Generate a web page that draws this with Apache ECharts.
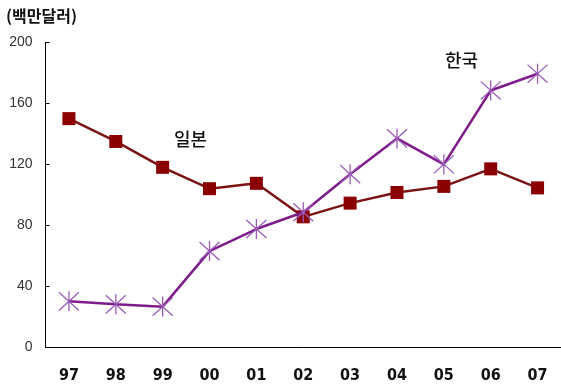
<!DOCTYPE html>
<html>
<head>
<meta charset="utf-8">
<script src="https://cdn.jsdelivr.net/npm/echarts@6/dist/echarts.min.js"></script>
<style>html,body{margin:0;padding:0;background:#fff;}#c{width:561px;height:386px;}</style>
</head>
<body>
<div id="c"></div>
<script>
const categories = ['97','98','99','00','01','02','03','04','05','06','07'];
const japan = [150, 135, 118, 104, 107.5, 85.5, 94.5, 101.5, 105.5, 117, 104.5];
const korea = [30, 28, 26.5, 63, 77.5, 88.5, 113.5, 137, 120, 168.5, 179.5];
const yTicks = [0, 40, 80, 120, 160, 200];
const unitLabel = '(백만달러)';
const japanLabel = '일본';
const koreaLabel = '한국';

const chart = echarts.init(document.getElementById('c'), null, {renderer: 'canvas'});
const star = 'path://M0,0L20,20M20,0L0,20M10,-1L10,21';
chart.setOption({
  animation: false,
  backgroundColor: '#fff',
  grid: {left: 45.5, top: 42.5, width: 518, height: 304.5, containLabel: false},
  xAxis: {
    type: 'category',
    data: categories,
    boundaryGap: true,
    axisLine: {lineStyle: {color: '#000', width: 1}},
    axisTick: {inside: true, length: 4, interval: 0, lineStyle: {color: '#000'}},
    axisLabel: {interval: 0, margin: 21, fontFamily: '"DejaVu Sans Condensed", "DejaVu Sans", sans-serif', fontWeight: 'bold', fontSize: 16, color: '#111'},
    splitLine: {show: false}
  },
  yAxis: {
    type: 'value',
    min: yTicks[0],
    max: yTicks[yTicks.length - 1],
    interval: yTicks[1] - yTicks[0],
    axisLine: {show: true, lineStyle: {color: '#000', width: 1}},
    axisTick: {show: true, inside: true, length: 4, lineStyle: {color: '#000'}},
    axisLabel: {margin: 13, fontFamily: 'Liberation Sans', fontSize: 14, color: '#333'},
    splitLine: {show: false}
  },
  series: [
    {
      name: japanLabel,
      type: 'line',
      data: japan,
      symbol: 'rect',
      symbolSize: 13,
      lineStyle: {color: '#7a1414', width: 2.5},
      itemStyle: {color: '#8b0000', borderColor: '#8b0000', borderWidth: 0},
      z: 2
    },
    {
      name: koreaLabel,
      type: 'line',
      data: korea,
      symbol: star,
      symbolSize: 20,
      lineStyle: {color: '#7d1c8a', width: 2.5},
      itemStyle: {color: 'rgba(0,0,0,0)', borderColor: '#9a5cb8', borderWidth: 1.3},
      z: 3
    }
  ],
  graphic: [
    {type: 'text', left: 6, top: 8, style: {text: unitLabel, font: 'bold 16px "Noto Sans CJK KR"', fill: '#111'}},
    {type: 'text', left: 174, top: 130, style: {text: japanLabel, font: '500 18px "Noto Sans CJK KR"', fill: '#111'}},
    {type: 'text', left: 445, top: 51, style: {text: koreaLabel, font: '500 18px "Noto Sans CJK KR"', fill: '#111'}}
  ]
});
</script>
</body>
</html>
